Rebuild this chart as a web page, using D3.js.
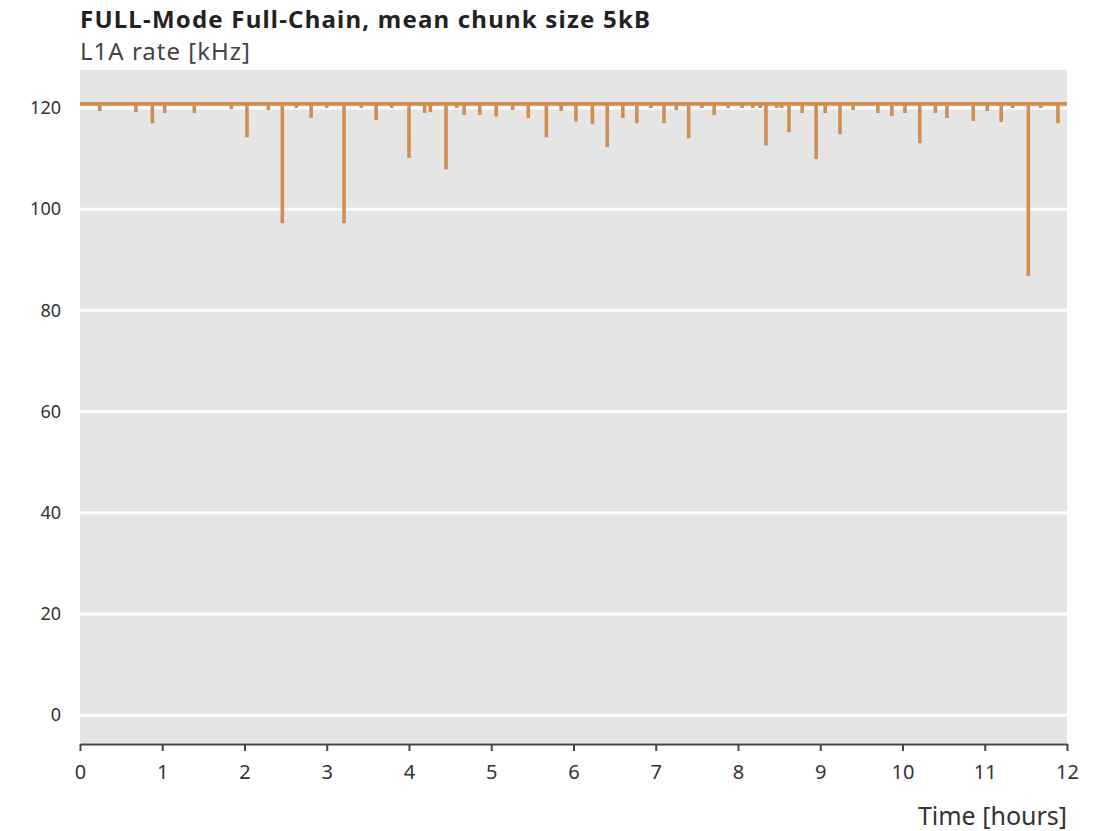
<!DOCTYPE html>
<meta charset="utf-8">
<head>
<script src="https://d3js.org/d3.v7.min.js"></script>
<style>
body { margin: 0; background: #fff; }
text { font-family: "Noto Sans", sans-serif; }
</style>
</head>
<body>
<svg id="chart"></svg>
<script>
// L1A rate, baseline and the dips
var baseRate = 120.8;
var dipTimes = [0.24, 0.68, 0.88, 1.03, 1.39, 1.84, 2.03, 2.29, 2.46, 2.63, 2.81, 3.00, 3.21, 3.42, 3.60, 3.79,
                4.00, 4.19, 4.26, 4.45, 4.58, 4.67, 4.86, 5.06, 5.26, 5.45, 5.67, 5.85, 6.03, 6.23, 6.41, 6.60,
                6.77, 6.94, 7.10, 7.25, 7.40, 7.56, 7.71, 7.88, 8.05, 8.18, 8.27, 8.34, 8.47, 8.53, 8.62, 8.78,
                8.95, 9.06, 9.24, 9.40, 9.70, 9.87, 10.03, 10.21, 10.40, 10.54, 10.86, 11.03, 11.20, 11.34, 11.53,
                11.68, 11.89];
var dipRates = [119.4, 119.2, 117.0, 119.0, 119.0, 119.8, 114.2, 119.6, 97.2, 120.0, 118.0, 120.0, 97.2, 120.0, 117.6, 120.0,
                110.1, 119.0, 119.2, 107.9, 120.0, 118.6, 118.6, 118.3, 119.6, 118.0, 114.2, 119.4, 117.3, 116.8, 112.3, 118.0,
                117.0, 120.0, 117.0, 119.6, 114.0, 120.0, 118.6, 120.0, 120.0, 120.0, 120.0, 112.6, 120.0, 120.0, 115.2, 119.0,
                109.9, 119.0, 114.8, 119.6, 119.0, 118.4, 119.0, 113.0, 119.0, 118.0, 117.4, 119.4, 117.2, 120.0, 86.8,
                120.0, 117.0];
var xTicks = [0, 1, 2, 3, 4, 5, 6, 7, 8, 9, 10, 11, 12];
var yTicks = [0, 20, 40, 60, 80, 100, 120];

var width = 1101, height = 831;
var plotLeft = 80, plotRight = 1067, plotTop = 70, plotBottom = 743;

var svg = d3.select("#chart").attr("width", width).attr("height", height);

var x = d3.scaleLinear().domain([0, 12]).range([plotLeft, plotRight]);
var y = d3.scaleLinear().domain([-5.5, 127.5]).range([plotBottom, plotTop]);

svg.append("rect")
   .attr("x", plotLeft).attr("y", plotTop)
   .attr("width", plotRight - plotLeft).attr("height", plotBottom - plotTop)
   .attr("fill", "#e5e5e5");

svg.selectAll(".grid")
   .data(yTicks)
   .enter().append("line")
   .attr("x1", plotLeft).attr("x2", plotRight)
   .attr("y1", function(d) { return y(d); })
   .attr("y2", function(d) { return y(d); })
   .attr("stroke", "#fff")
   .attr("stroke-width", 3);

svg.selectAll(".ylab")
   .data(yTicks)
   .enter().append("text")
   .attr("x", 61)
   .attr("y", function(d) { return y(d); })
   .attr("dy", "0.35em")
   .attr("text-anchor", "end")
   .attr("font-size", 18)
   .attr("fill", "#333")
   .text(function(d) { return d; });

// series: flat at the base rate, dropping straight down at each dip
var points = [[0, baseRate]];
dipTimes.forEach(function(t, i) {
    points.push([t, baseRate], [t, dipRates[i]], [t, baseRate]);
});
points.push([12, baseRate]);

var line = d3.line()
    .x(function(d) { return x(d[0]); })
    .y(function(d) { return y(d[1]); });

svg.append("path")
   .attr("d", line(points))
   .attr("fill", "none")
   .attr("stroke", "#d08f50")
   .attr("stroke-width", 3.6);

var xAxis = svg.append("g")
   .attr("transform", "translate(0," + (plotBottom + 1) + ")")
   .call(d3.axisBottom(x).tickValues(xTicks).tickSize(7).tickSizeOuter(0));
xAxis.select(".domain").attr("stroke", "#444").attr("stroke-width", 2);
xAxis.selectAll(".tick line").attr("stroke", "#444").attr("stroke-width", 2);
xAxis.selectAll(".tick text")
   .attr("font-family", "Noto Sans, sans-serif")
   .attr("font-size", 20)
   .attr("fill", "#333")
   .attr("y", 21)
   .attr("dy", "0.71em");

svg.append("text")
   .attr("x", plotLeft).attr("y", 28)
   .attr("font-size", 24)
   .attr("font-weight", "bold")
   .attr("fill", "#222")
   .attr("textLength", 570)
   .text("FULL-Mode Full-Chain, mean chunk size 5kB");

svg.append("text")
   .attr("x", plotLeft).attr("y", 60)
   .attr("font-size", 24)
   .attr("fill", "#444")
   .attr("textLength", 170)
   .text("L1A rate [kHz]");

svg.append("text")
   .attr("x", plotRight).attr("y", 825)
   .attr("text-anchor", "end")
   .attr("font-size", 25)
   .attr("fill", "#333")
   .text("Time [hours]");
</script>
</body>
